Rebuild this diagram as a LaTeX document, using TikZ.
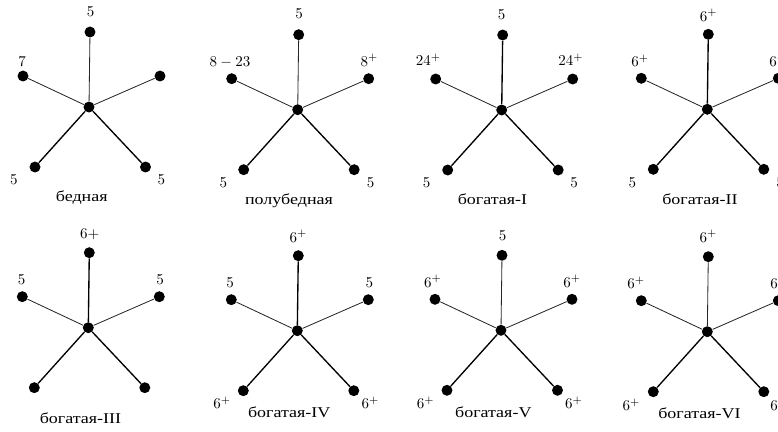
\documentclass[tikz,border=0pt]{standalone}
\usepackage{fontspec}
\newfontfamily\capfont[FakeStretch=1.2]{Liberation Serif}
\usetikzlibrary{calc}
\tikzset{
  dot/.style={circle,fill=black,inner sep=0pt,minimum size=7.3pt},
  thinedge/.style={line width=0.55pt,draw=black!85},
  thickedge/.style={line width=0.9pt,draw=black},
  lbl/.style={anchor=base,inner sep=0pt,font=\fontsize{10}{12}\selectfont},
  starcaption/.style={anchor=base,inner sep=0pt,font=\capfont\fontsize{10}{12}\selectfont},
}
\newcommand\mystar[4]{%
  \node[dot] (#1c) at (#2,#3) {};
  \node[dot] (#1t) at ($(#1c)+(1,-75)$) {};
  \node[dot] (#1ul) at ($(#1c)+(-66,-31)$) {};
  \node[dot] (#1ur) at ($(#1c)+(71,-31)$) {};
  \node[dot] (#1ll) at ($(#1c)+(-54,60)$) {};
  \node[dot] (#1lr) at ($(#1c)+(56.5,60)$) {};
  \draw[#4] (#1c) -- (#1t);
  \draw[thinedge] (#1c) -- (#1ul);
  \draw[thinedge] (#1c) -- (#1ur);
  \draw[thickedge] (#1c) -- (#1ll);
  \draw[thickedge] (#1c) -- (#1lr);
}
\begin{document}
\begin{tikzpicture}[x=0.6667pt,y=-0.6667pt]
\clip (0,0) rectangle (778,432);
% row 1
\mystar{a}{89}{107}{thinedge}
\node[lbl] (at-l) at (90.7,16.1) {$5$};
\node[lbl] (aul-l) at (22.2,66.8) {$7$};
\node[lbl] (all-l) at (14,184.1) {$5$};
\node[lbl] (alr-l) at (161.3,184.1) {$5$};
\node[starcaption] (a-cap) at (81.7,201.5) {бедная};

\mystar{b}{297.7}{109.7}{thinedge}
\node[lbl] (bt-l) at (299,18.8) {$5$};
\node[lbl] (bul-l) at (230,66.1) {$8-23$};
\node[lbl] (bur-l) at (369.3,66.1) {$8^+$};
\node[lbl] (bll-l) at (223.3,187.5) {$5$};
\node[lbl] (blr-l) at (370.7,187.5) {$5$};
\node[starcaption] (b-cap) at (289,204) {полубедная};

\mystar{c}{501.7}{110}{thickedge}
\node[lbl] (ct-l) at (501.7,19.3) {$5$};
\node[lbl] (cul-l) at (428.3,65.8) {$24^+$};
\node[lbl] (cur-l) at (570.8,65.8) {$24^+$};
\node[lbl] (cll-l) at (426.7,187.5) {$5$};
\node[lbl] (clr-l) at (574,187.5) {$5$};
\node[starcaption] (c-cap) at (492.5,204) {богатая-I};

\mystar{d}{707.3}{109.3}{thickedge}
\node[lbl] (dt-l) at (708.7,21) {$6^+$};
\node[lbl] (dul-l) at (640,66.8) {$6^+$};
\node[lbl] (dur-l) at (778,66.8) {$6^+$};
\node[lbl] (dll-l) at (632.3,187.5) {$5$};
\node[lbl] (dlr-l) at (780,187.5) {$5$};
\node[starcaption] (d-cap) at (700,204) {богатая-II};
% row 2
\mystar{e}{88.3}{327.7}{thickedge}
\node[lbl] (et-l) at (89.7,238.6) {$6+$};
\node[lbl] (eul-l) at (21.7,284.6) {$5$};
\node[lbl] (eur-l) at (160,284.6) {$5$};
\node[starcaption] (e-cap) at (80.5,423.3) {богатая-III};

\mystar{f}{297.3}{330.7}{thickedge}
\node[lbl] (ft-l) at (298.3,242) {$6^+$};
\node[lbl] (ful-l) at (230,287) {$5$};
\node[lbl] (fur-l) at (369.3,287) {$5$};
\node[lbl] (fll-l) at (222,408.8) {$6^+$};
\node[lbl] (flr-l) at (370.3,408.8) {$6^+$};
\node[starcaption] (f-cap) at (289.2,417.7) {богатая-IV};

\mystar{g}{501}{330.3}{thinedge}
\node[lbl] (gt-l) at (502.7,240.3) {$5$};
\node[lbl] (gul-l) at (432.8,287) {$6^+$};
\node[lbl] (gur-l) at (572,287) {$6^+$};
\node[lbl] (gll-l) at (425.5,408.8) {$6^+$};
\node[lbl] (glr-l) at (573.8,408.8) {$6^+$};
\node[starcaption] (g-cap) at (493.3,417.7) {богатая-V};

\mystar{h}{707.3}{331.7}{thinedge}
\node[lbl] (ht-l) at (708.3,242.1) {$6^+$};
\node[lbl] (hul-l) at (636.2,288.8) {$6^+$};
\node[lbl] (hur-l) at (779,288.8) {$6^+$};
\node[lbl] (hll-l) at (631.3,410.5) {$6^+$};
\node[lbl] (hlr-l) at (779,410.5) {$6^+$};
\node[starcaption] (h-cap) at (699.5,418.3) {богатая-VI};
\end{tikzpicture}
\end{document}
